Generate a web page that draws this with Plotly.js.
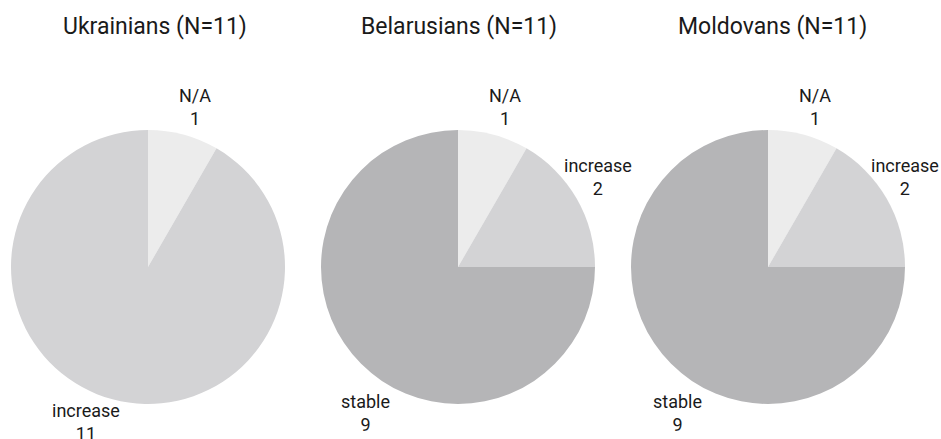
<!DOCTYPE html>
<html><head><meta charset="utf-8">
<script src="https://cdn.plot.ly/plotly-3.0.1.min.js"></script>
<style>html,body{margin:0;padding:0;background:#fff}#chart{width:941px;height:439px}</style>
</head><body><div id="chart"></div>
<script>
const groups = ["Ukrainians (N=11)", "Belarusians (N=11)", "Moldovans (N=11)"];
const ukrLabels = ["N/A", "increase"];
const ukrValues = [1, 11];
const belLabels = ["N/A", "increase", "stable"];
const belValues = [1, 2, 9];
const molLabels = ["N/A", "increase", "stable"];
const molValues = [1, 2, 9];
const colorMap = {"N/A": "#ececec", "increase": "#d3d3d5", "stable": "#b5b5b7"};

// layout / style
const W = 941, H = 439;
const cx = [148, 458, 768], cy = 267, R = 137;
const titleX = [155, 459, 772];
const labelDist = 168;
// small pixel nudges applied to outside labels (style only)
const nudges = [
  {"N/A": [4, 2], "increase": [-19, -7]},
  {"N/A": [4, 2], "increase": [-5, -6], "stable": [26, 27]},
  {"N/A": [4, 2], "increase": [-8, -6], "stable": [28, 27]}
];

const sets = [[ukrLabels, ukrValues], [belLabels, belValues], [molLabels, molValues]];
const traces = [];
const annotations = [];
sets.forEach((s, i) => {
  const [labels, values] = s;
  traces.push({
    type: "pie",
    labels: labels,
    values: values,
    sort: false,
    direction: "clockwise",
    rotation: 0,
    marker: {colors: labels.map(l => colorMap[l]), line: {width: 0}},
    textposition: "none",
    hoverinfo: "label+value",
    domain: {x: [(cx[i] - R) / W, (cx[i] + R) / W], y: [(H - cy - R) / H, (H - cy + R) / H]},
    showlegend: false
  });
  const total = values.reduce((a, b) => a + b, 0);
  let cum = 0;
  labels.forEach((lab, j) => {
    const mid = (cum + values[j] / 2) / total * 2 * Math.PI;
    cum += values[j];
    const nd = nudges[i][lab] || [0, 0];
    const px = cx[i] + labelDist * Math.sin(mid) + nd[0];
    const py = cy - labelDist * Math.cos(mid) + nd[1];
    annotations.push({
      text: lab + "<br>" + values[j], xref: "paper", yref: "paper",
      x: px / W, y: (H - py) / H, xanchor: "center", yanchor: "middle",
      showarrow: false, align: "center",
      font: {family: "Roboto, sans-serif", size: 18, color: "#1a1a1a"}
    });
  });
});
groups.forEach((g, i) => annotations.push({
  text: g, xref: "paper", yref: "paper", x: titleX[i] / W, y: (H - 26) / H,
  xanchor: "center", yanchor: "middle", showarrow: false,
  font: {family: "Roboto, sans-serif", size: 23, color: "#1a1a1a"}
}));

Plotly.newPlot("chart", traces, {
  width: W, height: H,
  margin: {l: 0, r: 0, t: 0, b: 0},
  paper_bgcolor: "#fff",
  annotations: annotations,
  font: {family: "Roboto, sans-serif"}
}, {displayModeBar: false, staticPlot: true});
</script></body></html>
